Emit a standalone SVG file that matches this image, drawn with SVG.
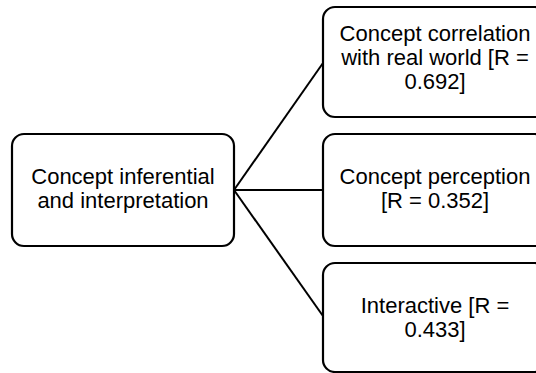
<svg xmlns="http://www.w3.org/2000/svg" width="536" height="373" viewBox="0 0 536 373">
<style>
.box{fill:#fff;stroke:#000;stroke-width:2.2}
.t{font-family:"Liberation Sans",Arial,sans-serif;font-size:22px;fill:#000;text-anchor:middle}
.c{stroke:#000;stroke-width:2;fill:none}
</style>
<rect width="536" height="373" fill="#fff"/>
<g id="connectors">
<line class="c" x1="234" y1="190" x2="323" y2="63"/>
<line class="c" x1="234" y1="190" x2="323" y2="190"/>
<line class="c" x1="234" y1="190" x2="323" y2="316"/>
</g>
<g id="root">
<rect class="box" x="12" y="134" width="222" height="112" rx="12"/>
<text class="t" x="123" y="184">Concept inferential</text>
<text class="t" x="123" y="208">and interpretation</text>
</g>
<g id="n1">
<rect class="box" x="323" y="7" width="224" height="110" rx="12"/>
<text class="t" x="435" y="41">Concept correlation</text>
<text class="t" x="435" y="65">with real world [R =</text>
<text class="t" x="435" y="89">0.692]</text>
</g>
<g id="n2">
<rect class="box" x="323" y="134" width="224" height="112" rx="12"/>
<text class="t" x="435" y="184">Concept perception</text>
<text class="t" x="435" y="208">[R = 0.352]</text>
</g>
<g id="n3">
<rect class="box" x="323" y="263" width="224" height="109" rx="12"/>
<text class="t" x="435" y="313">Interactive [R =</text>
<text class="t" x="435" y="337">0.433]</text>
</g>
</svg>
